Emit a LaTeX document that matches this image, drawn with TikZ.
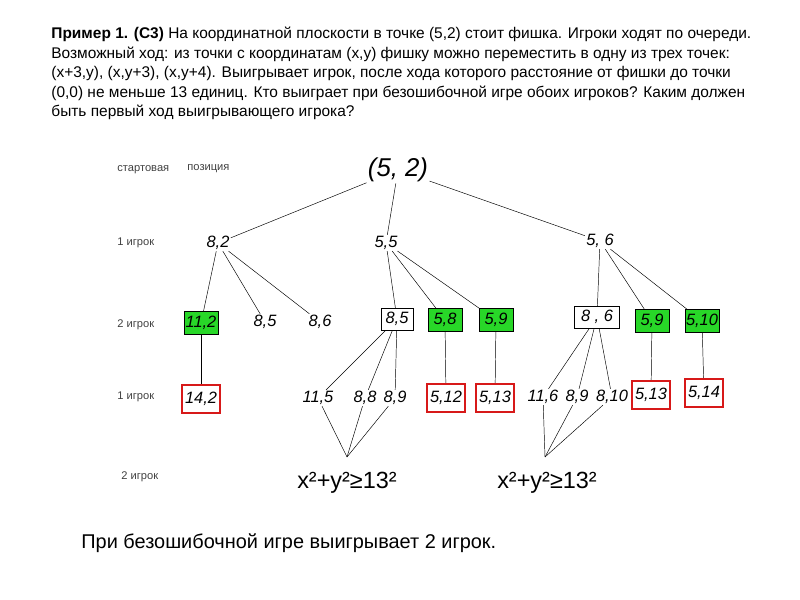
\documentclass[tikz,border=0pt]{standalone}
\usepackage{fontspec}
\setmainfont{Liberation Sans}
\definecolor{wingreen}{RGB}{40,215,40}
\definecolor{losered}{RGB}{215,25,25}
\tikzset{
    every node/.style={inner sep=1pt},
    lvl/.style={anchor=west, text=black!75, font=\fontsize{9.5}{11}\selectfont},
    hw/.style={font=\itshape\fontsize{14}{14}\selectfont},
    win/.style={hw, draw, fill=wingreen, minimum width=1.02cm, minimum height=0.68cm},
    wbox/.style={hw, draw, minimum width=0.95cm, minimum height=0.66cm},
    lose/.style={hw, draw=losered, line width=1.5pt, minimum width=1.15cm, minimum height=0.86cm}
}

\begin{document}
\begin{tikzpicture}[x=0.03cm, y=-0.03cm]
    \useasboundingbox (0,0) rectangle (800,600);

    \node (task) at (50,26) [anchor=north west, align=left, font=\fontsize{13.2}{16.6}\selectfont]
        {\textbf{Пример 1. (С3)} На координатной плоскости в точке (5,2) стоит фишка. Игроки ходят по очереди.\\
         Возможный ход: из точки с координатам (x,y) фишку можно переместить в одну из трех точек:\\
         (x+3,y), (x,y+3), (x,y+4). Выигрывает игрок, после хода которого расстояние от фишки до точки\\
         (0,0) не меньше 13 единиц. Кто выиграет при безошибочной игре обоих игроков? Каким должен\\
         быть первый ход выигрывающего игрока?};

    \node (l0a) at (116,170) [lvl] {стартовая};
    \node (l0b) at (186,169) [lvl] {позиция};
    \node (l1) at (116,243) [lvl] {1 игрок};
    \node (l2) at (116,325) [lvl] {2 игрок};
    \node (l3) at (116,397) [lvl] {1 игрок};
    \node (l4) at (120,477) [lvl] {2 игрок};

    % start
    \node (r) at (398,170) [hw, font=\itshape\fontsize{22}{22}\selectfont] {(5, 2)};

    % move of player 1
    \node (a) at (218,243) [hw] {8,2};
    \node (b) at (386,243) [hw] {5,5};
    \node (c) at (600,241) [hw] {5, 6};

    % move of player 2
    \node (a1) at (201,323) [win] {11,2};
    \node (a2) at (265,322) [hw] {8,5};
    \node (a3) at (320,322) [hw] {8,6};
    \node (b1) at (397,319) [wbox] {8,5};
    \node (b2) at (445,320) [win] {5,8};
    \node (b3) at (496,320) [win] {5,9};
    \node (c1) at (597,317) [wbox, minimum width=1.35cm] {8 , 6};
    \node (c2) at (652,321) [win] {5,9};
    \node (c3) at (702,321) [win] {5,10};

    % move of player 1
    \node (a11) at (201,399) [lose] {14,2};
    \node (b11) at (318,398) [hw] {11,5};
    \node (b12) at (365,398) [hw] {8,8};
    \node (b13) at (395,398) [hw] {8,9};
    \node (b21) at (446,398) [lose] {5,12};
    \node (b31) at (495,398) [lose] {5,13};
    \node (c11) at (543,397) [hw] {11,6};
    \node (c12) at (577,397) [hw] {8,9};
    \node (c13) at (612,397) [hw] {8,10};
    \node (c21) at (651,395) [lose] {5,13};
    \node (c31) at (704,393) [lose] {5,14};

    % move of player 2
    \node (f1) at (347,483) [hw, font=\fontsize{20}{20}\selectfont] {x²+y²≥13²};
    \node (f2) at (547,483) [hw, font=\fontsize{20}{20}\selectfont] {x²+y²≥13²};
    \coordinate (m1) at (347,457);
    \coordinate (m2) at (545,457);

    \draw (r) edge (a);
    \draw (r) edge (b);
    \draw (r) edge (c);

    \draw (a) edge (a1);
    \draw (a) edge (a2);
    \draw (a) edge (a3);
    \draw (b) edge (b1);
    \draw (b) edge (b2);
    \draw (b) edge (b3);
    \draw (c) edge (c1);
    \draw (c) edge (c2);
    \draw (c) edge (c3);

    \draw (a1) edge (a11);
    \draw (b1) edge (b11);
    \draw (b1) edge (b12);
    \draw (b1) edge (b13);
    \draw (b2) edge (b21);
    \draw (b3) edge (b31);
    \draw (c1) edge (c11);
    \draw (c1) edge (c12);
    \draw (c1) edge (c13);
    \draw (c2) edge (c21);
    \draw (c3) edge (c31);

    \draw (b11) edge (m1);
    \draw (b12) edge (m1);
    \draw (b13) edge (m1);
    \draw (c11) edge (m2);
    \draw (c12) edge (m2);
    \draw (c13) edge (m2);

    \node (res) at (80,543) [anchor=west, font=\fontsize{17}{17}\selectfont] {При безошибочной игре выигрывает 2 игрок.};
\end{tikzpicture}
\end{document}
